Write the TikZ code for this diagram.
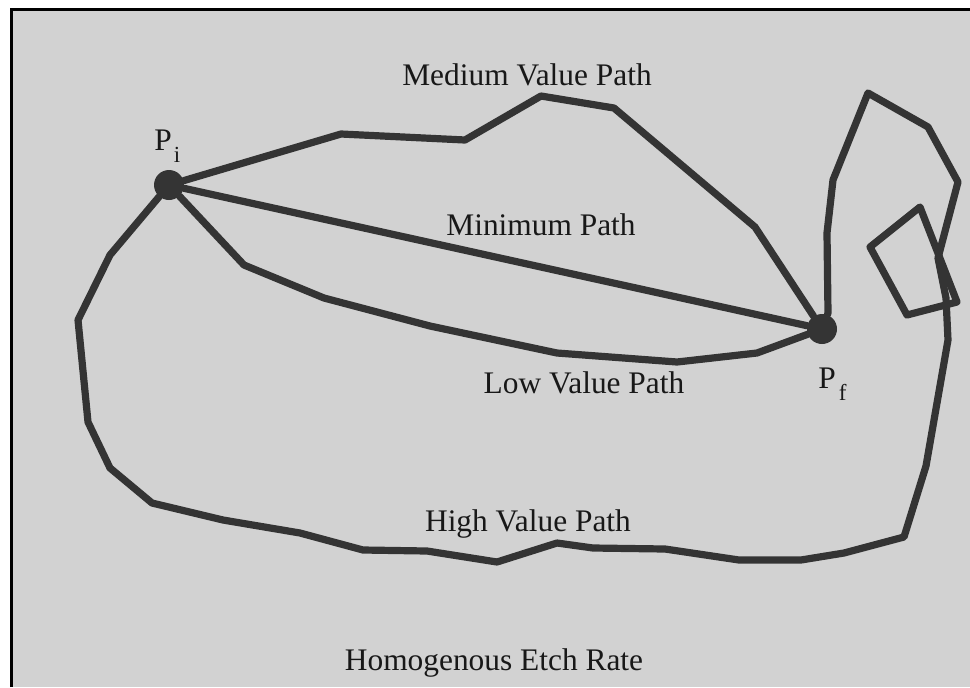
\documentclass[tikz,border=0pt]{standalone}
\usepackage{fontspec}
\setmainfont{Liberation Serif}
\definecolor{bg}{HTML}{D2D2D2}
\definecolor{ink}{HTML}{343434}
\definecolor{txt}{HTML}{181818}
\begin{document}
\begin{tikzpicture}[x=0.5pt,y=-0.5pt,
 pathline/.style={draw=ink,line width=3.6pt,line join=round,line cap=round},
 dot/.style={circle,fill=ink,inner sep=0pt,minimum size=15pt},
 lbl/.style={font=\fontsize{15.7}{18}\selectfont,text=txt,inner sep=0pt,anchor=base}]
\useasboundingbox (0,0) rectangle (970,687);
\fill[white] (0,0) rectangle (970,687);
\fill[bg] (11,9) rectangle (970,687);
\draw[line width=1.5pt,black] (11,687) -- (11,9) -- (970,9);

\node[dot] (pi) at (169,185) {};
\node[dot] (pf) at (822,329) {};

% Medium value path
\draw[pathline] (pi) -- (341,134) -- (465,140) -- (541,96) -- (614,108) -- (755,227) -- (pf);
% Minimum path
\draw[pathline] (pi) -- (pf);
% Low value path
\draw[pathline] (pi) -- (244,265) -- (324,298) -- (430,326) -- (557,353) -- (677,362) -- (757,353) -- (pf);
% High value path
\draw[pathline] (pi) -- (110,255) -- (78,320) -- (88,422) -- (110,468) -- (152,503) -- (223,520) -- (300,533) -- (363,550) -- (427,551) -- (497,562) -- (557,543) -- (593,548) -- (665,549) -- (739,560) -- (801,560) -- (844,553) -- (904,537) -- (926,466) -- (948,340) -- (946,298) -- (938,258) -- (958,182) -- (928,127) -- (868,93) -- (833,180) -- (827,233) -- (828,313) -- (pf);
% small quadrilateral
\draw[pathline] (870,247) -- (920,207) -- (957,302) -- (907,315) -- cycle;

\node[lbl] (tmed) at (527,85) {Medium Value Path};
\node[lbl] (tmin) at (541,235) {Minimum Path};
\node[lbl] (tlow) at (584,393) {Low Value Path};
\node[lbl] (thigh) at (528,531) {High Value Path};
\node[lbl] (thom) at (494,670) {Homogenous Etch Rate};
\node[lbl,anchor=base west] (lpi) at (154,150) {P\kern1pt\raisebox{-6pt}{\fontsize{11.5}{13}\selectfont i}};
\node[lbl,anchor=base west] (lpf) at (818,388) {P\kern1.5pt\raisebox{-6pt}{\fontsize{11.5}{13}\selectfont f}};
\end{tikzpicture}
\end{document}
